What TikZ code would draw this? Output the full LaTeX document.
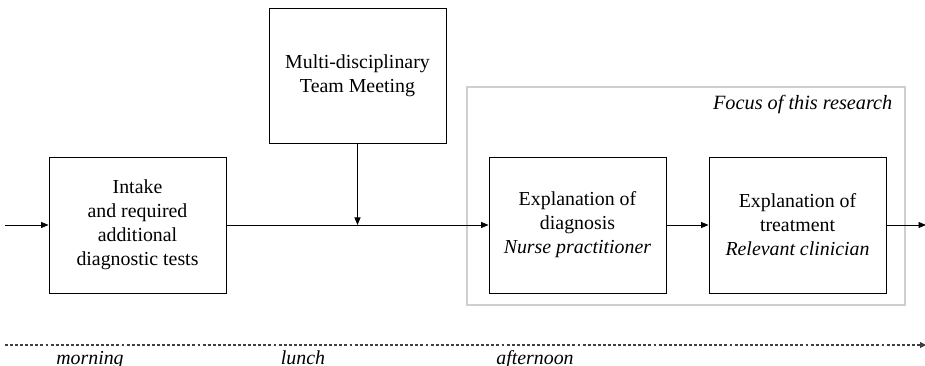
\documentclass[tikz,border=0pt]{standalone}
\usepackage{fontspec}
\setmainfont{Liberation Serif}
\usetikzlibrary{arrows.meta}
\begin{document}
\begin{tikzpicture}[x=0.75pt,y=-0.75pt,
  procbox/.style={draw=black,line width=0.7pt,minimum width=177*0.75pt,minimum height=136*0.75pt,
    inner sep=0pt,align=center,font=\fontsize{14.9}{18}\selectfont},
  flow/.style={line width=0.65pt,-{Triangle[length=7.5pt*0.75,width=6pt*0.75]}},
  timelbl/.style={anchor=base,font=\fontsize{14.9}{18}\selectfont\itshape}]
\useasboundingbox (0,0) rectangle (925,366);
% highlighted region
\draw[draw=black!19,line width=2.2pt] (467,87) rectangle (905,305);
\node[anchor=base east,font=\fontsize{15.2}{18}\selectfont\itshape] (focus) at (897,110) {Focus of this research};
% process steps
\node[procbox] (intake) at (137.5,225) {Intake\\and required\\additional\\diagnostic tests};
\node[procbox,minimum height=135*0.75pt] (mdt) at (357.5,75.5) {Multi-disciplinary\\Team Meeting};
\node[procbox] (diag) at (577.5,225) {Explanation of\\diagnosis\\\textit{Nurse practitioner}};
\node[procbox] (treat) at (797.5,225) {Explanation of\\treatment\\\textit{Relevant clinician}};
\coordinate (start) at (5,225);
\coordinate (finish) at (926,225);
\coordinate (join) at (357.5,225);
% connectors
\draw[flow] (start) -- (intake.west);
\draw[flow] (intake.east) -- (diag.west);
\draw[flow] (mdt.south) -- (join);
\draw[flow] (diag.east) -- (treat.west);
\draw[flow] (treat.east) -- (finish);
% time line
\coordinate (tstart) at (5,345);
\coordinate (tend) at (926,345);
\draw[black!75,line width=0.8pt,dash pattern=on 2.2pt off 1.6pt,-{Triangle[length=6pt*0.75,width=6pt*0.75]}] (tstart) -- (tend);
\node[timelbl] (morning) at (90,365) {morning};
\node[timelbl] (lunch) at (303,365) {lunch};
\node[timelbl] (afternoon) at (535,365) {afternoon};
\end{tikzpicture}
\end{document}
